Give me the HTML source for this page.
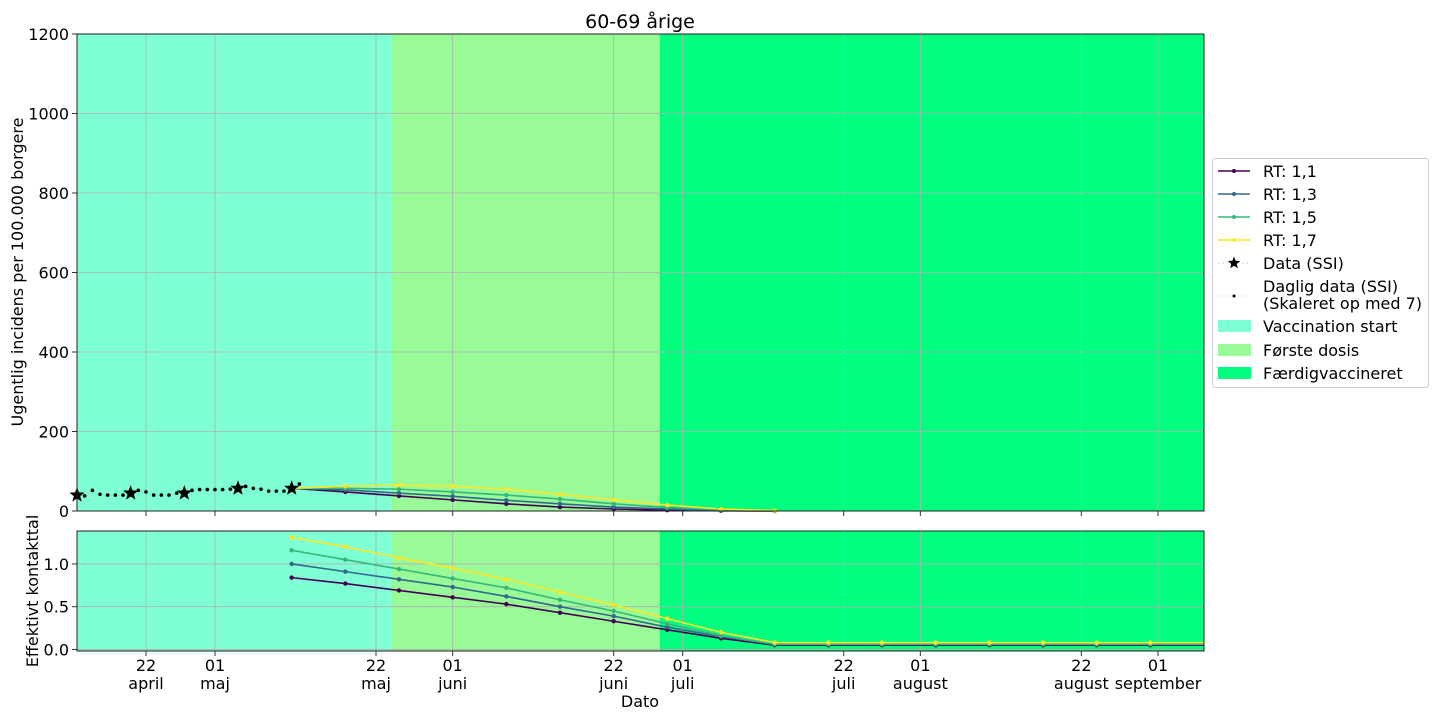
<!DOCTYPE html>
<html><head><meta charset="utf-8"><style>
body{margin:0;background:#fff;}
svg{display:block;font-family:"DejaVu Sans","Liberation Sans",sans-serif;}
</style></head><body>
<svg id="c" width="1440" height="720" xmlns="http://www.w3.org/2000/svg"></svg>
<script>
// ---- data ----
const tickDays = [9,18,39,49,70,79,100,110,131,141];
const tickDayLabels = ["22","01","22","01","22","01","22","01","22","01"];
const tickMonthLabels = ["april","maj","maj","juni","juni","juli","juli","august","august","september"];
const phaseStarts = [0,41,76];
const phaseEnds = [41,76,147];
const phaseNames = ["Vaccination start","Første dosis","Færdigvaccineret"];
const phaseColors = ["#7fffd4","#98fb98","#00ff7f"];
const weeklyDays = [0,7,14,21,28];
const weeklyValues = [40,45,45,57,57];
const dailyValues = [40,38,52,42,40,40,40,45,52,48,40,40,40,45,45,52,54,54,54,54,55,57,62,57,55,50,50,50,57,68];
const incDays = [28,35,42,49,56,63,70,77,84,91];
const projDays = [28,35,42,49,56,63,70,77,84,91,98,105,112,119,126,133,140,147];
const seriesNames = ["RT: 1,1","RT: 1,3","RT: 1,5","RT: 1,7"];
const seriesColors = ["#440154","#31688e","#35b779","#fde725"];
const incRT11 = [57,48,38,28,18,10,5,2,0.5,0];
const incRT13 = [57,53,45,37,27,18,10,5,1,0];
const incRT15 = [57,57,55,48,40,30,18,9,3,0];
const incRT17 = [57,62,65,62,55,42,28,15,5,1];
const rtRT11 = [0.84,0.77,0.69,0.61,0.53,0.43,0.33,0.23,0.13,0.05,0.05,0.05,0.05,0.05,0.05,0.05,0.05,0.05];
const rtRT13 = [1.00,0.91,0.82,0.73,0.62,0.50,0.39,0.26,0.15,0.06,0.06,0.06,0.06,0.06,0.06,0.06,0.06,0.06];
const rtRT15 = [1.16,1.05,0.94,0.83,0.72,0.58,0.45,0.30,0.16,0.06,0.06,0.06,0.06,0.06,0.06,0.06,0.06,0.06];
const rtRT17 = [1.31,1.20,1.07,0.95,0.82,0.67,0.52,0.36,0.20,0.08,0.08,0.08,0.08,0.08,0.08,0.08,0.08,0.08];
const topTicks = [0,200,400,600,800,1000,1200];
const botTicks = [0,0.5,1.0];
const botTickLabels = ["0.0","0.5","1.0"];

// ---- axes ----
const X0=77,X1=1204,D0=0,D1=147;
const x = d => X0+(d-D0)/(D1-D0)*(X1-X0);
const T0=34,T1=511; const yT = v => T1-(v/1200)*(T1-T0);
const B0=531,B1=651; const BMIN=-0.018,BMAX=1.385; const yB = v => B1-(v-BMIN)/(BMAX-BMIN)*(B1-B0);

const NS="http://www.w3.org/2000/svg";
const svg=document.getElementById('c');
function mk(tag,attrs,parent){const e=document.createElementNS(NS,tag);for(const k in attrs)e.setAttribute(k,attrs[k]);(parent||svg).appendChild(e);return e;}

function panel(top,bot,name){
  const g=mk('g',{});
  
  
  for(let i=0;i<phaseStarts.length;i++){
    const r=mk('rect',{x:x(phaseStarts[i]),y:top,width:x(phaseEnds[i])-x(phaseStarts[i]),height:bot-top,fill:phaseColors[i]},g);
    
    
  }
  for(const d of tickDays){
    const l=mk('line',{x1:x(d),x2:x(d),y1:top,y2:bot,stroke:'#b0b0b0','stroke-width':0.8},g);
    
    
    mk('line',{x1:x(d),x2:x(d),y1:bot,y2:bot+5,stroke:'#333','stroke-width':1},g);
  }
  return g;
}
const gt=panel(T0,T1,'top-panel');
for(const v of topTicks){
  const l=mk('line',{x1:X0,x2:X1,y1:yT(v),y2:yT(v),stroke:'#b0b0b0','stroke-width':0.8},gt);
  
  
  mk('line',{x1:X0-5,x2:X0,y1:yT(v),y2:yT(v),stroke:'#333'},gt);
  const t=mk('text',{x:X0-8,y:yT(v)+6,'text-anchor':'end','font-size':16},gt);t.textContent=v;
  
  
}
const gb=panel(B0,B1,'bottom-panel');
botTicks.forEach((v,i)=>{
  const l=mk('line',{x1:X0,x2:X1,y1:yB(v),y2:yB(v),stroke:'#b0b0b0','stroke-width':0.8},gb);
  
  
  mk('line',{x1:X0-5,x2:X0,y1:yB(v),y2:yB(v),stroke:'#333'},gb);
  const t=mk('text',{x:X0-8,y:yB(v)+6,'text-anchor':'end','font-size':16},gb);t.textContent=botTickLabels[i];
  
  
});

// daily data
const dp=mk('polyline',{points:dailyValues.map((v,i)=>x(i)+','+yT(v)).join(' '),fill:'none',stroke:'#999','stroke-width':0.6,'stroke-dasharray':'2,2',opacity:0.5},gt);


dailyValues.forEach((v,i)=>{
  const c=mk('circle',{cx:x(i),cy:yT(v),r:1.8,fill:'#000'},gt);
  
  
});
function star(cx,cy,r,parent){
  let p=[];for(let i=0;i<10;i++){const a=-Math.PI/2+i*Math.PI/5;const rr=i%2?r*0.42:r;p.push((cx+rr*Math.cos(a)).toFixed(1)+','+(cy+rr*Math.sin(a)).toFixed(1));}
  return mk('polygon',{points:p.join(' '),fill:'#000'},parent);
}

const incSeries=[incRT11,incRT13,incRT15,incRT17];
const rtSeries=[rtRT11,rtRT13,rtRT15,rtRT17];
function drawSeries(arr,days,yf,g,color,name){
  const pl=mk('polyline',{points:arr.map((v,i)=>x(days[i])+','+yf(v)).join(' '),fill:'none',stroke:color,'stroke-width':1.6},g);
  
  
  arr.forEach((v,i)=>{ if(days[i]<D1){
    const c=mk('circle',{cx:x(days[i]),cy:yf(v),r:2.2,fill:color},g);
    
    
  }});
}
for(let s=0;s<4;s++){
  drawSeries(incSeries[s],incDays,yT,gt,seriesColors[s],'incidence-line-'+(s+1));
  drawSeries(rtSeries[s],projDays,yB,gb,seriesColors[s],'rt-line-'+(s+1));
}
weeklyValues.forEach((v,i)=>{
  const s=star(x(weeklyDays[i]),yT(v),8,gt);
  
  
});
mk('rect',{x:X0,y:T0,width:X1-X0,height:T1-T0,fill:'none',stroke:'#222','stroke-width':1});
mk('rect',{x:X0,y:B0,width:X1-X0,height:B1-B0,fill:'none',stroke:'#222','stroke-width':1});

// x tick labels
tickDays.forEach((d,i)=>{
  const t=mk('text',{x:x(d),y:671,'text-anchor':'middle','font-size':16});t.textContent=tickDayLabels[i];
  
  
  const m=mk('text',{x:x(d),y:689,'text-anchor':'middle','font-size':16});m.textContent=tickMonthLabels[i];
  
  
});
</script>
<script>
(function(){
const svg=document.getElementById('c');const NS="http://www.w3.org/2000/svg";
function mk(tag,attrs,parent){const e=document.createElementNS(NS,tag);for(const k in attrs)e.setAttribute(k,attrs[k]);(parent||svg).appendChild(e);return e;}
let t=mk('text',{x:640,y:28,'text-anchor':'middle','font-size':19});t.textContent='60-69 årige';


t=mk('text',{x:640,y:707,'text-anchor':'middle','font-size':16});t.textContent='Dato';


t=mk('text',{x:0,y:0,'text-anchor':'middle','font-size':16,transform:'translate(23,272) rotate(-90)'});t.textContent='Ugentlig incidens per 100.000 borgere';


t=mk('text',{x:0,y:0,'text-anchor':'middle','font-size':16,transform:'translate(38,591) rotate(-90)'});t.textContent='Effektivt kontakttal';



// legend
const g=mk('g',{});


mk('rect',{x:1212.5,y:158.5,width:216,height:229,rx:3,fill:'#fff',stroke:'#ccc'},g);
const rows=[171,194,217,240,263];
for(let i=0;i<4;i++){
  const y=rows[i];
  mk('line',{x1:1218,x2:1250,y1:y,y2:y,stroke:seriesColors[i],'stroke-width':1.6},g);
  mk('circle',{cx:1234,cy:y,r:2,fill:seriesColors[i]},g);
  const tt=mk('text',{x:1263,y:y+6,'font-size':16},g);tt.textContent=seriesNames[i];
  
  
}
mk('line',{x1:1218,x2:1250,y1:263,y2:263,stroke:'#aaa','stroke-width':0.6,'stroke-dasharray':'2,2'},g);
let p=[];for(let i=0;i<10;i++){const a=-Math.PI/2+i*Math.PI/5;const rr=i%2?2.8:6.5;p.push((1234+rr*Math.cos(a)).toFixed(1)+','+(263+rr*Math.sin(a)).toFixed(1));}
mk('polygon',{points:p.join(' '),fill:'#000'},g);
let tt=mk('text',{x:1263,y:269,'font-size':16},g);tt.textContent='Data (SSI)';


mk('line',{x1:1218,x2:1250,y1:296,y2:296,stroke:'#ccc','stroke-width':0.6,'stroke-dasharray':'2,2'},g);
mk('circle',{cx:1234,cy:296,r:1.5,fill:'#000'},g);
tt=mk('text',{x:1263,y:292,'font-size':16},g);tt.textContent='Daglig data (SSI)';


tt=mk('text',{x:1263,y:309,'font-size':16},g);tt.textContent='(Skaleret op med 7)';
const prow=[326,350,373];
for(let i=0;i<3;i++){
  mk('rect',{x:1218,y:prow[i]-6,width:33,height:12,fill:phaseColors[i]},g);
  const q=mk('text',{x:1263,y:prow[i]+6,'font-size':16},g);q.textContent=phaseNames[i];
  
  
}
})();
</script>
</body></html>
